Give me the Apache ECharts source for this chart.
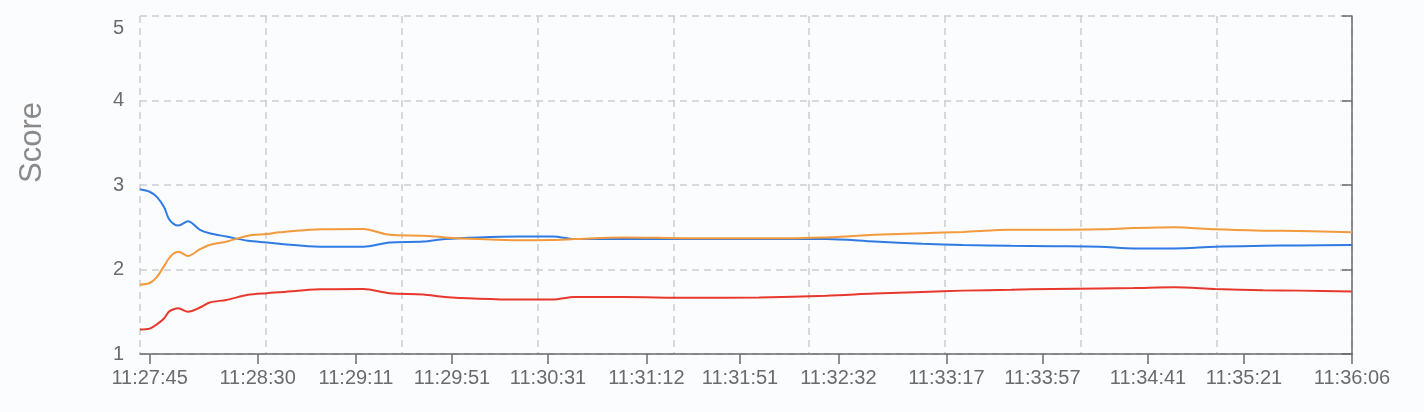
<!DOCTYPE html>
<html><head><meta charset="utf-8">
<script src="https://cdn.jsdelivr.net/npm/echarts@6/dist/echarts.min.js"></script>
<style>html,body{margin:0;padding:0;background:#fbfcfe}#c{width:1424px;height:412px}</style>
</head><body><div id="c"></div>
<script>
const sampleTimes = ["11:27:41","11:27:45","11:27:48","11:27:51","11:27:53","11:27:55","11:27:57","11:28:01","11:28:06","11:28:10","11:28:17","11:28:26","11:28:34","11:28:39","11:28:56","11:29:14","11:29:25","11:29:39","11:29:48","11:30:02","11:30:19","11:30:33","11:30:42","11:31:02","11:31:30","11:31:59","11:32:27","11:32:47","11:33:07","11:33:24","11:33:44","11:34:01","11:34:21","11:34:35","11:34:52","11:35:09","11:35:29","11:35:44","11:36:06"];
const blueScores = [2.95,2.92,2.86,2.74,2.60,2.54,2.52,2.57,2.47,2.43,2.39,2.34,2.32,2.305,2.27,2.27,2.32,2.33,2.36,2.38,2.39,2.39,2.36,2.36,2.36,2.36,2.36,2.33,2.305,2.29,2.28,2.275,2.27,2.25,2.25,2.27,2.28,2.285,2.29];
const orangeScores = [1.82,1.84,1.91,2.04,2.13,2.19,2.21,2.16,2.24,2.29,2.33,2.40,2.42,2.44,2.475,2.48,2.41,2.40,2.38,2.36,2.345,2.35,2.36,2.38,2.37,2.37,2.38,2.41,2.43,2.445,2.47,2.47,2.475,2.49,2.50,2.475,2.46,2.455,2.44];
const redScores = [1.29,1.30,1.35,1.42,1.50,1.53,1.54,1.50,1.55,1.61,1.64,1.70,1.72,1.73,1.765,1.77,1.72,1.705,1.675,1.655,1.645,1.645,1.675,1.675,1.665,1.67,1.69,1.715,1.735,1.75,1.76,1.77,1.775,1.78,1.79,1.77,1.755,1.75,1.74];
const xTickLabels = ["11:27:45","11:28:30","11:29:11","11:29:51","11:30:31","11:31:12","11:31:51","11:32:32","11:33:17","11:33:57","11:34:41","11:35:21","11:36:06"];
const yMin = 1, yMax = 5, yStep = 1;
const yAxisTitle = "Score";

function toSec(s){const p=s.split(':').map(Number);return p[0]*3600+p[1]*60+p[2];}
function fmt(v){v=Math.round(v);const h=Math.floor(v/3600),m=Math.floor(v%3600/60),s=v%60;const z=n=>String(n).padStart(2,'0');return z(h)+':'+z(m)+':'+z(s);}

const tSec = sampleTimes.map(toSec);
const tStart = tSec[0], tEnd = tSec[tSec.length-1];
const tickSec = xTickLabels.map(toSec);
const mk = arr => arr.map((v,i)=>[tSec[i], v]);

const FONT = '"Liberation Sans", Arial, sans-serif';
const TXT = '#6b6b6b';
const AX = '#6b6b6b';
const GRIDC = '#cdcdcd';

const chart = echarts.init(document.getElementById('c'), null, {renderer:'canvas'});
chart.setOption({
  backgroundColor:'#fbfcfe',
  animation:false,
  grid:{left:140, right:72, top:16, bottom:58, containLabel:false},
  xAxis:[{
    type:'value', min:tStart, max:tEnd,
    axisLine:{show:true, lineStyle:{color:AX, width:1.5}},
    axisTick:{show:true, customValues:tickSec, length:10, lineStyle:{color:AX, width:1.5}},
    axisLabel:{customValues:tickSec, formatter:v=>fmt(v), color:TXT, fontFamily:FONT, fontSize:20, margin:14},
    splitLine:{show:false}
  },{
    type:'value', inverse:true, min:0, max:tEnd-tStart, interval:56.56,
    axisLine:{show:false}, axisTick:{show:false}, axisLabel:{show:false},
    splitLine:{show:true, lineStyle:{color:GRIDC, type:[7,5], width:1.5}}
  }],
  yAxis:{
    type:'value', min:yMin, max:yMax, interval:yStep,
    name:yAxisTitle, nameLocation:'middle', nameGap:92,
    nameTextStyle:{color:'#8a8a8a', fontFamily:FONT, fontSize:31, padding:[0,0,0,85]},
    axisLine:{show:true, lineStyle:{color:AX, width:1.5}},
    axisTick:{show:true, length:10, lineStyle:{color:AX, width:1.5}},
    axisLabel:{color:TXT, fontFamily:FONT, fontSize:20, margin:16, verticalAlignMaxLabel:'top', padding:[2,0,0,0]},
    splitLine:{show:true, lineStyle:{color:GRIDC, type:[7,5], width:1.5}}
  },
  series:[
    {type:'line', name:'blue', data:mk(blueScores), smooth:0.3, showSymbol:false, lineStyle:{color:'#2f7be3', width:2}, itemStyle:{color:'#2f7be3'}},
    {type:'line', name:'orange', data:mk(orangeScores), smooth:0.3, showSymbol:false, lineStyle:{color:'#f29a3c', width:2}, itemStyle:{color:'#f29a3c'}},
    {type:'line', name:'red', data:mk(redScores), smooth:0.3, showSymbol:false, lineStyle:{color:'#e8372c', width:2}, itemStyle:{color:'#e8372c'}}
  ]
});
</script></body></html>
